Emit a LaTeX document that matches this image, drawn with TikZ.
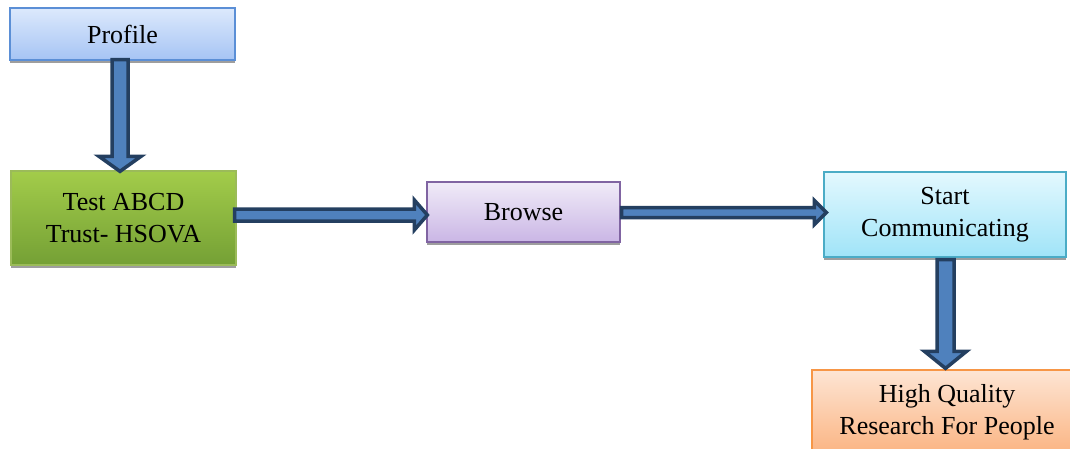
\documentclass[tikz,border=0pt]{standalone}
\usepackage{fontspec}
\setmainfont{Liberation Serif}
\usetikzlibrary{calc,shadows}

\definecolor{arrowline}{HTML}{243F60}
\definecolor{arrowfill}{HTML}{4F81BD}
\definecolor{blueedge}{HTML}{5B8FD6}
\definecolor{bluetop}{HTML}{DCE9FC}
\definecolor{bluebot}{HTML}{A6C4F4}
\definecolor{greenedge}{HTML}{9BBB59}
\definecolor{greentop}{HTML}{A3CC4A}
\definecolor{greenbot}{HTML}{74A035}
\definecolor{violetedge}{HTML}{8064A2}
\definecolor{violettop}{HTML}{F0EBF8}
\definecolor{violetbot}{HTML}{CAB6E5}
\definecolor{cyanedge}{HTML}{4BACC6}
\definecolor{cyantop}{HTML}{E3F8FE}
\definecolor{cyanbot}{HTML}{A0E4F8}
\definecolor{orangeedge}{HTML}{F79646}
\definecolor{orangetop}{HTML}{FDE5D4}
\definecolor{orangebot}{HTML}{FBB482}

% fat block arrow: from, to, shaft half width, head half width, head length
\newcommand\blockarrow[5]{%
  \coordinate (hb) at ($(#2)!#5!(#1)$);
  \draw[fatarrow] ($(#1)!#3!90:(#2)$) -- ($(hb)!#3!-90:(#1)$)
    -- ($(hb)!#4!-90:(#1)$) -- (#2) -- ($(hb)!#4!90:(#1)$)
    -- ($(hb)!#3!90:(#1)$) -- ($(#1)!#3!-90:(#2)$) -- cycle;}

\begin{document}
\begin{tikzpicture}[x=1pt,y=-1pt,
  box/.style={draw=#1edge, line width=1.3pt, top color=#1top, bottom color=#1bot,
    drop shadow={shadow xshift=0pt, shadow yshift=-3pt, fill=black!38, opacity=1},
    align=center, inner sep=0pt, font=\fontsize{26}{32}\selectfont},
  fatarrow/.style={draw=arrowline, fill=arrowfill, line width=3.5pt, line join=miter, miter limit=10}]
\useasboundingbox (0,0) rectangle (1070,448);

\node[box=blue, minimum width=225pt, minimum height=52pt] (profile) at (122.5,34) {Profile};
\node[box=green, minimum width=225pt, minimum height=94pt] (test) at (123.5,218) {Test ABCD\\Trust- HSOVA};
\node[box=violet, minimum width=193pt, minimum height=60pt] (browse) at (523.5,212) {Browse};
\node[box=cyan, minimum width=242pt, minimum height=85pt] (start) at (945,214.5) {Start\\Communicating};
\node[box=orange, minimum width=270pt, minimum height=84pt] (hq) at (947,412) {High Quality\\Research For People};

\coordinate (a1s) at ($(profile.south)+(-2.5,-1)$);
\coordinate (a1e) at ($(test.north)+(-3.5,1)$);
\coordinate (a2s) at ($(test.east)+(-2,-3)$);
\coordinate (a2e) at ($(browse.west)+(1,3)$);
\coordinate (a3s) at ($(browse.east)+(1,0.5)$);
\coordinate (a3e) at ($(start.west)+(3,-2)$);
\coordinate (a4s) at ($(start.south)+(0.5,2)$);
\coordinate (a4e) at ($(hq.north)+(-1.5,-1)$);

\blockarrow{a1s}{a1e}{8pt}{21pt}{15pt}
\blockarrow{a2s}{a2e}{6pt}{15pt}{13pt}
\blockarrow{a3s}{a3e}{5pt}{12pt}{12pt}
\blockarrow{a4s}{a4e}{8.5pt}{21pt}{17pt}
\end{tikzpicture}
\end{document}
